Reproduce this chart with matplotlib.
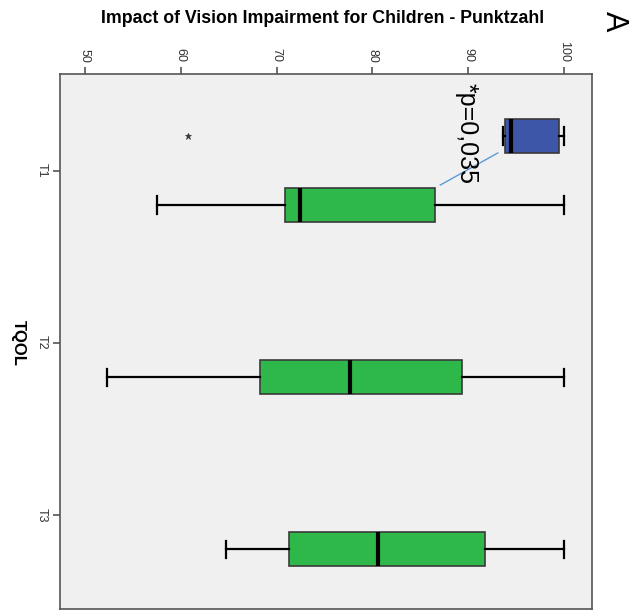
import matplotlib.pyplot as plt

# TQOL scores per time point (whisker low, Q1, median, Q3, whisker high)
groups = ['T1', 'T2', 'T3']
green_low = [57.5, 52.3, 64.7]
green_q1 = [70.9, 68.3, 71.3]
green_med = [72.4, 77.7, 80.6]
green_q3 = [86.5, 89.4, 91.8]
green_high = [100, 100, 100]

# second cluster, only present at T1
blue_stats = [93.6, 93.8, 94.5, 99.5, 100]
blue_outliers = [60.8]

value_ticks = [50, 60, 70, 80, 90, 100]
p_text = '*p=0,035'

GREEN = '#2EB84A'
BLUE = '#3D56A8'
EDGE = '#3a3a3a'

fig = plt.figure(figsize=(6.41, 6.13), dpi=100)
ax = fig.add_axes([0.0936, 0.0065, 0.8295, 0.8723])
ax.set_facecolor('#F0F0F0')

offset = 0.2
width = 0.2

green = []
for i in range(len(groups)):
    green.append(dict(whislo=green_low[i], q1=green_q1[i], med=green_med[i],
                      q3=green_q3[i], whishi=green_high[i], fliers=[]))
blue = [dict(whislo=blue_stats[0], q1=blue_stats[1], med=blue_stats[2],
             q3=blue_stats[3], whishi=blue_stats[4], fliers=blue_outliers)]

pos = list(range(1, len(groups) + 1))

common = dict(orientation='horizontal', widths=width, patch_artist=True,
              whiskerprops=dict(color='black', lw=1.6),
              capprops=dict(color='black', lw=1.6),
              medianprops=dict(color='black', lw=3),
              flierprops=dict(marker='*', markersize=5, markerfacecolor='#333',
                              markeredgecolor='#333', markeredgewidth=0.5))

ax.bxp(green, positions=[p + offset for p in pos], capwidths=0.1,
       boxprops=dict(facecolor=GREEN, edgecolor=EDGE, lw=1.2), **common)
ax.bxp(blue, positions=[pos[0] - offset], capwidths=0.1,
       boxprops=dict(facecolor=BLUE, edgecolor=EDGE, lw=1.2), **common)

# significance marker between the two T1 boxes
ax.plot([93.1, 87.1], [0.898, 1.084], color='#5B9BD5', lw=1)
ax.text(89.8, 0.49, p_text, rotation=-90, ha='center', va='top',
        fontsize=18, family='Liberation Sans', color='black')

ax.set_xlim(47.4, 102.9)
ax.set_ylim(3.547, 0.441)
ax.xaxis.tick_top()
ax.set_xticks(value_ticks)
ax.set_xticklabels([str(v) for v in value_ticks], rotation=-90,
                   fontsize=9, color='#333', family='Liberation Sans')
ax.set_yticks(pos)
ax.set_yticklabels(groups, rotation=-90, va='center',
                   fontsize=9, color='#333', family='Liberation Sans')
ax.tick_params(axis='both', length=5, width=1.2, color='#555')
for s in ax.spines.values():
    s.set_color('#555')
    s.set_linewidth(1.2)

fig.text(0.028, 0.44, 'TQOL', rotation=-90, ha='center', va='center',
         fontsize=12, fontweight='bold', family='Liberation Sans')
fig.text(0.503, 0.97, 'Impact of Vision Impairment for Children - Punktzahl',
         ha='center', va='center', fontsize=12.8, fontweight='bold',
         family='Liberation Sans')
fig.text(0.958, 0.966, 'A', rotation=-90, ha='center', va='center',
         fontsize=22, family='Liberation Sans')

fig.savefig('out.png', dpi=100)
